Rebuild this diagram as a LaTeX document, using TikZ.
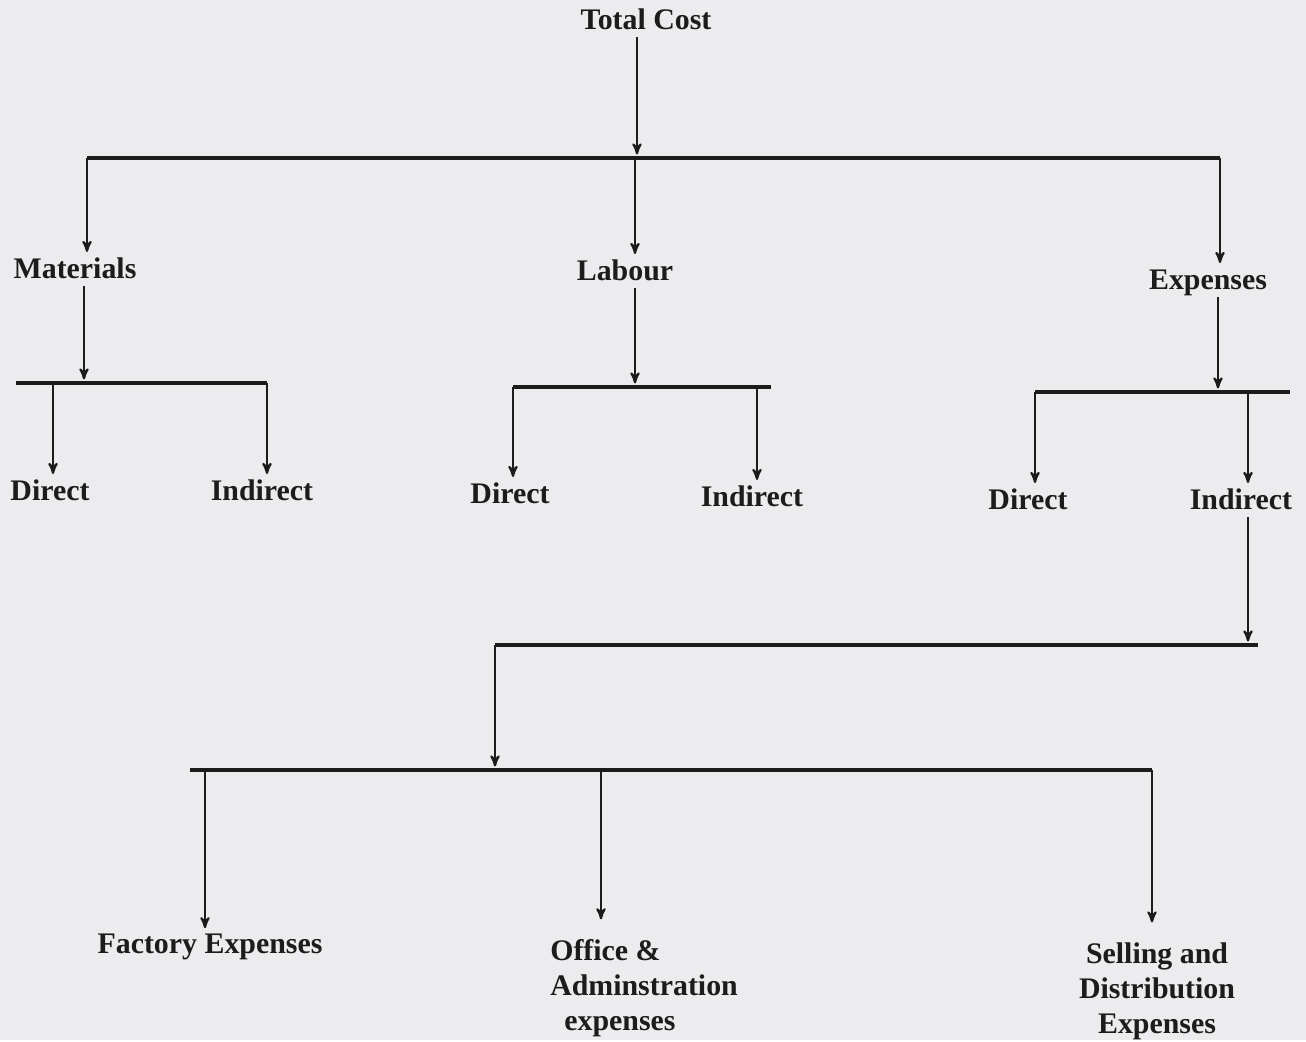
\documentclass[tikz,border=0pt]{standalone}
\usepackage{fontspec}
\setmainfont{Liberation Serif}
\usetikzlibrary{arrows}
\definecolor{paper}{RGB}{236,236,238}
\definecolor{ink}{RGB}{28,28,28}

\begin{document}
\begin{tikzpicture}[->,>=stealth',x=0.02cm,y=-0.02cm,semithick,draw=ink,text=ink]
  \tikzstyle{head}=[font=\fontsize{17}{20}\selectfont\bfseries,inner sep=1pt,
                    text height=12pt,text depth=3pt]
  \tikzstyle{leaf}=[font=\fontsize{17}{20}\selectfont\bfseries,inner sep=1pt,align=center]
  \tikzstyle{bus}=[-,line width=2pt]
  \tikzstyle{link}=[line width=1.2pt,shorten >=2pt]

  \fill[paper,-] (0,0) rectangle (1306,1040);

  \node[head] (total) at (646,22)  {Total Cost};
  \node[head] (mat)   at (75,271)  {Materials};
  \node[head] (lab)   at (625,273) {Labour};
  \node[head] (exp)   at (1208,282) {Expenses};

  \node[head] (md) at (50,493)   {Direct};
  \node[head] (mi) at (262,493)  {Indirect};
  \node[head] (ld) at (510,496)  {Direct};
  \node[head] (li) at (752,499)  {Indirect};
  \node[head] (ed) at (1028,502) {Direct};
  \node[head] (ei) at (1241,502) {Indirect};

  \node[leaf] (fac) at (210,947)  {Factory Expenses};
  \node[leaf,align=left,anchor=west] (off) at (548,988)
        {Office \&\\Adminstration\\\hspace*{8pt}expenses};
  \node[leaf] (sel) at (1157,991) {Selling and\\Distribution\\Expenses};

  % junction points on the bars
  \coordinate (t0) at (637,158);
  \coordinate (t1) at (87,158);
  \coordinate (t2) at (635,158);
  \coordinate (t3) at (1220,158);

  \coordinate (m0) at (84,383);
  \coordinate (m1) at (16,383);
  \coordinate (m2) at (53,383);
  \coordinate (m3) at (267,383);

  \coordinate (l0) at (635,387);
  \coordinate (l1) at (513,387);
  \coordinate (l2) at (771,387);
  \coordinate (l3) at (757,387);

  \coordinate (e0) at (1218,392);
  \coordinate (e1) at (1035,392);
  \coordinate (e2) at (1290,392);
  \coordinate (e3) at (1248,392);

  \coordinate (s0) at (1248,645);
  \coordinate (s1) at (495,645);
  \coordinate (s2) at (1258,645);

  \coordinate (b0) at (495,770);
  \coordinate (b1) at (190,770);
  \coordinate (b2) at (205,770);
  \coordinate (b3) at (601,770);
  \coordinate (b4) at (1152,770);

  % bars
  \draw[bus] (t1) -- (t3);
  \draw[bus] (m1) -- (m3);
  \draw[bus] (l1) -- (l2);
  \draw[bus] (e1) -- (e2);
  \draw[bus] (s1) -- (s2);
  \draw[bus] (b1) -- (b4);

  \path[link]
  (total.south -| t0) edge (t0)
  (t1) edge (t1 |- mat.north)
  (t2) edge (t2 |- lab.north)
  (t3) edge (t3 |- exp.north)
  (mat.south -| m0) edge (m0)
  (lab.south -| l0) edge (l0)
  (exp.south -| e0) edge (e0)
  (m2) edge (m2 |- md.north)
  (m3) edge (m3 |- mi.north)
  (l1) edge (l1 |- ld.north)
  (l3) edge (l3 |- li.north)
  (e1) edge (e1 |- ed.north)
  (e3) edge (e3 |- ei.north)
  (ei.south -| s0) edge (s0)
  (s1) edge (b0)
  (b2) edge (b2 |- fac.north)
  (b3) edge ([yshift=8pt]b3 |- off.north)
  (b4) edge ([yshift=8pt]b4 |- sel.north);
\end{tikzpicture}
\end{document}
